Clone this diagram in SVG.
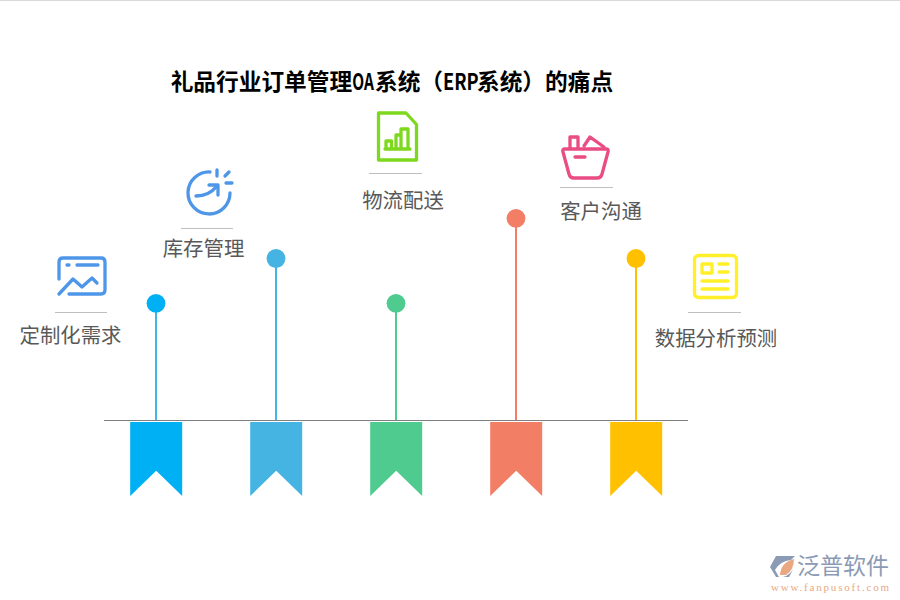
<svg xmlns="http://www.w3.org/2000/svg" width="900" height="600" viewBox="0 0 900 600">
<style>
.lbl{font-family:"Noto Sans CJK SC","Liberation Sans",sans-serif;font-size:20.400px;fill:#595959;text-anchor:middle}
.sep{stroke:#bfbfbf;stroke-width:1;fill:none}
.ic{fill:none;stroke-width:3.300;stroke-linecap:round;stroke-linejoin:round}
.stem{stroke-width:2;fill:none}
.t{font-family:"Noto Sans CJK SC","Liberation Sans",sans-serif;font-size:22.700px;font-weight:700;fill:#000}
</style>
<rect width="900" height="600" fill="#fff"/>
<rect x="0" y="0" width="900" height="1" fill="#d9d9d9"/>
<g id="title">
<text class="t" x="170.700" y="90">礼品行业订单管理</text>
<text class="t" transform="translate(352.300 90) scale(.68 1)">OA</text>
<text class="t" x="375" y="90">系统（</text>
<text class="t" transform="translate(443 90) scale(.8 1)">ERP</text>
<text class="t" x="477" y="90">系统）的痛点</text>
</g>
<g id="connectors">
<line x1="104" y1="420.500" x2="688" y2="420.500" stroke="#808080" stroke-width="1.200"/>
<line class="stem" x1="156" y1="303" x2="156" y2="420" stroke="#45b4e3"/>
<line class="stem" x1="276" y1="258" x2="276" y2="420" stroke="#45b4e3"/>
<line class="stem" x1="396" y1="303" x2="396" y2="420" stroke="#4fcb8f"/>
<line class="stem" x1="516" y1="218" x2="516" y2="420" stroke="#f37e66"/>
<line class="stem" x1="636" y1="258" x2="636" y2="420" stroke="#ffc000"/>
</g>
<g id="node1">
<circle cx="156" cy="303.300" r="9.400" fill="#00b0f5"/>
<path d="M130.200 422H182.200V496L156.200 470.800L130.200 496Z" fill="#00b0f5"/>
<g class="ic" stroke="#4e96e8">
<path d="M59 279V262Q59 258 63 258H101Q105 258 105 262V290Q105 294 101 294H69"/>
<path d="M67 265H69M77 265H98"/>
<path d="M59 294L73 279L82 287L92 278L97 283"/>
</g>
<line class="sep" x1="55" y1="312.500" x2="107" y2="312.500"/>
<text class="lbl" x="70.500" y="342.500">定制化需求</text>
</g>
<g id="node2">
<circle cx="276" cy="258.500" r="9.400" fill="#45b4e3"/>
<path d="M250.200 422H302.200V496L276.200 470.800L250.200 496Z" fill="#45b4e3"/>
<g class="ic" stroke="#4e96e8">
<path d="M210 172A21 21 0 1 0 230 193"/>
<path d="M196 196Q209 196 217 186"/>
<path d="M209 185H218V195"/>
<path d="M217 170V176M229 172L225 176M232 183H226"/>
</g>
<line class="sep" x1="181" y1="228.500" x2="233" y2="228.500"/>
<text class="lbl" x="203.500" y="255.800">库存管理</text>
</g>
<g id="node3">
<circle cx="396" cy="303.300" r="9.400" fill="#4fcb8f"/>
<path d="M370.200 422H422.200V496L396.200 470.800L370.200 496Z" fill="#4fcb8f"/>
<g class="ic" stroke="#7ed91e">
<path d="M378.500 113H406L416.500 124.500V160H378.500Z"/>
<path d="M386 149V141H391.500V149M396 149V135H401V149M401 149V129H408V149M385 149H410"/>
</g>
<line class="sep" x1="369" y1="173.500" x2="422" y2="173.500"/>
<text class="lbl" x="403" y="207.500">物流配送</text>
</g>
<g id="node4">
<circle cx="516" cy="218.300" r="9.400" fill="#f37e66"/>
<path d="M490.200 422H542.200V496L516.200 470.800L490.200 496Z" fill="#f37e66"/>
<g class="ic" stroke="#ea4c84">
<path d="M565 149H606Q609 149 608 152L602 174Q601 178 597 178H574Q570 178 569 174L563 152Q562 149 565 149Z"/>
<path d="M570 148V137H578V148M584 146L590 137L604 147"/>
<path d="M575 157H585"/>
</g>
<line class="sep" x1="560" y1="187.500" x2="613" y2="187.500"/>
<text class="lbl" x="601" y="219">客户沟通</text>
</g>
<g id="node5">
<circle cx="636" cy="258.500" r="9.400" fill="#ffc000"/>
<path d="M610.200 422H662.200V496L636.200 470.800L610.200 496Z" fill="#ffc000"/>
<g class="ic" stroke="#fff02a">
<rect x="694.500" y="255.500" width="42" height="42" rx="4"/>
<rect x="702" y="264" width="10" height="9"/>
<path d="M719 264H728M719 272H728M702 281H728M702 289H728"/>
</g>
<line class="sep" x1="688" y1="312.500" x2="741" y2="312.500"/>
<text class="lbl" x="716" y="345.500">数据分析预测</text>
</g>
<g id="logo">
<path d="M776 556H795L791 560Q780 561 775 570L779 577H776L770 567Z" fill="#8c9bb5"/>
<path d="M780 575Q781 562 794 559Q794 570 786 575Z" fill="#eaa882"/>
<path d="M795 566L789 577H783Q791 575 795 566Z" fill="#8c9bb5"/>
<text x="843" y="574.400" text-anchor="middle" font-family="'Noto Sans CJK SC',sans-serif" font-size="23" fill="#8c9bb5">泛普软件</text>
<text x="771" y="591" font-family="'Liberation Serif',serif" font-size="11" textLength="118" fill="#e9a985">www.fanpusoft.com</text>
</g>
</svg>
